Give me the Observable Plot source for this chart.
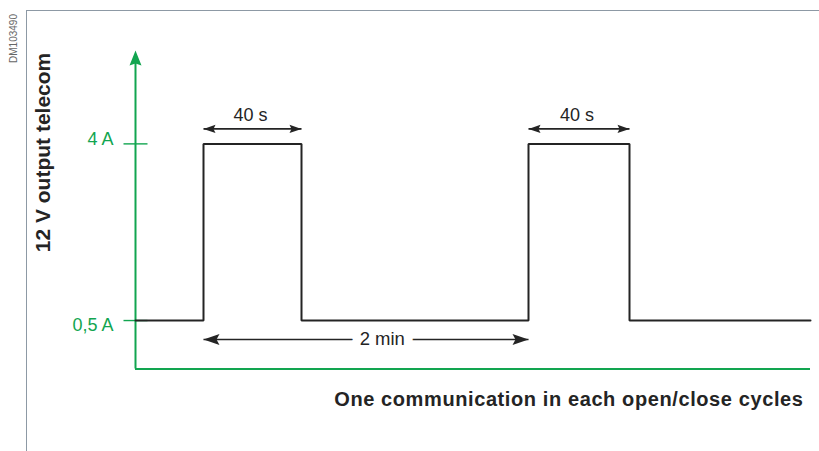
<!DOCTYPE html>
<html>
<head>
<meta charset="utf-8">
<script src="https://cdn.jsdelivr.net/npm/d3@7"></script>
<script src="https://cdn.jsdelivr.net/npm/@observablehq/plot@0.6"></script>
<style>
  html, body { margin: 0; padding: 0; background: #fff; }
  #wrap { position: relative; width: 819px; height: 451px; overflow: hidden; }
  #frame { position: absolute; left: 26px; top: 10px; right: 0; bottom: 0;
           border-left: 1px solid #8d99a5; border-top: 1px solid #8d99a5; }
  #wrap svg { position: absolute; left: 0; top: 0; }
</style>
</head>
<body>
<div id="wrap"><div id="frame"></div></div>
<script>
// ---- data (time in seconds, current in A) ----
const stepTime    = [-25, 0, 40, 120, 160, 225];
const stepCurrent = [0.5, 4, 0.5, 4, 0.5, 0.5];
const tickValues  = [0.5, 4];
const tickLabels  = ["0,5 A", "4 A"];
const pulseStart  = [0, 120];
const pulseEnd    = [40, 160];
const pulseLabel  = ["40 s", "40 s"];
const periodStart = [0];
const periodEnd   = [120];
const periodLabel = ["2 min"];
const axisTitle   = "12 V output telecom";
const caption     = "One communication in each open/close cycles";
const docRef      = "DM103490";

const yMin = -0.46, yMax = 5.85;
const tStart = stepTime[0], tEnd = stepTime[stepTime.length - 1];

const green = "#12a550";
const ink = "#242424";
const font = "Liberation Sans, Arial, sans-serif";

const steps = stepTime.map((t, i) => ({t, a: stepCurrent[i]}));
const ticks = tickValues.map((v, i) => ({v, label: tickLabels[i]}));
const pulses = pulseStart.map((s, i) => ({s, e: pulseEnd[i], m: (s + pulseEnd[i]) / 2, label: pulseLabel[i]}));
const periods = periodStart.map((s, i) => ({s, e: periodEnd[i], m: (s + periodEnd[i]) / 2, label: periodLabel[i]}));

// custom arrowhead symbols (tip at origin)
const head = (len, hw, notch, dir) => ({
  draw(ctx) {
    const p = (u, v) => dir === "up" ? [v, u] : dir === "left" ? [u, v] : [-u, v];
    const pts = [p(0, 0), p(len, -hw), p(len - notch, 0), p(len, hw)];
    ctx.moveTo(...pts[0]); ctx.lineTo(...pts[1]); ctx.lineTo(...pts[2]); ctx.lineTo(...pts[3]); ctx.closePath();
  }
});
const tickSym = {draw(ctx) { ctx.moveTo(-12, 0); ctx.lineTo(12, 0); }};

const chart = Plot.plot({
  width: 819,
  height: 451,
  margin: 0,
  style: {fontFamily: font, background: "transparent", overflow: "visible"},
  x: {type: "linear", domain: [-25, 0, 40, 120, 160, 225], range: [135, 203, 301, 528, 629, 810], axis: null},
  y: {domain: [yMin, yMax], range: [368.5, 50], axis: null},
  marks: [
    // green axes
    Plot.ruleX([tStart], {y1: yMin, y2: yMax - 0.2, stroke: green, strokeWidth: 2}),
    Plot.ruleY([yMin], {x1: tStart, x2: tEnd, stroke: green, strokeWidth: 2}),
    Plot.dot([yMax], {x: () => tStart, y: d => d, symbol: head(15, 6, 2, "up"), fill: green, stroke: "none"}),
    // y ticks and labels
    Plot.dot(ticks, {x: () => tStart, y: "v", symbol: tickSym, stroke: green, strokeWidth: 1.4, fill: "none"}),
    Plot.text(ticks.filter(d => d.v > 1), {x: () => tStart, y: "v", text: "label", textAnchor: "end", dx: -22, dy: -5, fontSize: 18, fill: green}),
    Plot.text(ticks.filter(d => d.v <= 1), {x: () => tStart, y: "v", text: "label", textAnchor: "end", dx: -22, dy: 5, fontSize: 18, fill: green}),
    // signal
    Plot.line(steps, {x: "t", y: "a", curve: "step-after", stroke: ink, strokeWidth: 2, strokeLinejoin: "miter"}),
    // 40 s dimension arrows
    Plot.link(pulses, {x1: "s", x2: "e", y1: () => 4, y2: () => 4, dy: -15, stroke: ink, strokeWidth: 1.6}),
    Plot.dot(pulses, {x: "s", y: () => 4, dy: -15, symbol: head(12, 4.2, 2, "left"), fill: ink, stroke: "none"}),
    Plot.dot(pulses, {x: "e", y: () => 4, dy: -15, symbol: head(12, 4.2, 2, "right"), fill: ink, stroke: "none"}),
    Plot.text(pulses, {x: "m", y: () => 4, text: "label", dx: -2, dy: -29, fontSize: 18, fill: ink}),
    // 2 min dimension arrow
    Plot.link(periods, {x1: "s", x2: "e", y1: () => 0.5, y2: () => 0.5, dy: 19, stroke: ink, strokeWidth: 1.6}),
    Plot.dot(periods, {x: "s", y: () => 0.5, dy: 19, symbol: head(16, 5.5, 3, "left"), fill: ink, stroke: "none"}),
    Plot.dot(periods, {x: "e", y: () => 0.5, dy: 19, symbol: head(16, 5.5, 3, "right"), fill: ink, stroke: "none"}),
    Plot.text(periods, {x: "m", y: () => 0.5, text: "label", dx: 24, dy: 19, fontSize: 18.5, fill: ink, stroke: "white", strokeWidth: 18}),
    // titles
    Plot.text([axisTitle], {frameAnchor: "top-left", textAnchor: "middle", lineAnchor: "middle", dx: 43, dy: 152, rotate: -90, fontSize: 21, fontWeight: "bold", fill: ink}),
    Plot.text([caption], {frameAnchor: "bottom-right", textAnchor: "end", lineAnchor: "bottom", dx: -16, dy: -46, fontSize: 20, fontWeight: "bold", fill: ink}),
    Plot.text([docRef], {frameAnchor: "top-left", textAnchor: "middle", lineAnchor: "middle", dx: 13, dy: 38, rotate: -90, fontSize: 10, fill: "#666"})
  ]
});

d3.select(chart).selectAll("text").filter(function() { return this.textContent === caption; }).attr("letter-spacing", "0.6px");
document.getElementById("wrap").appendChild(chart);
</script>
</body>
</html>
